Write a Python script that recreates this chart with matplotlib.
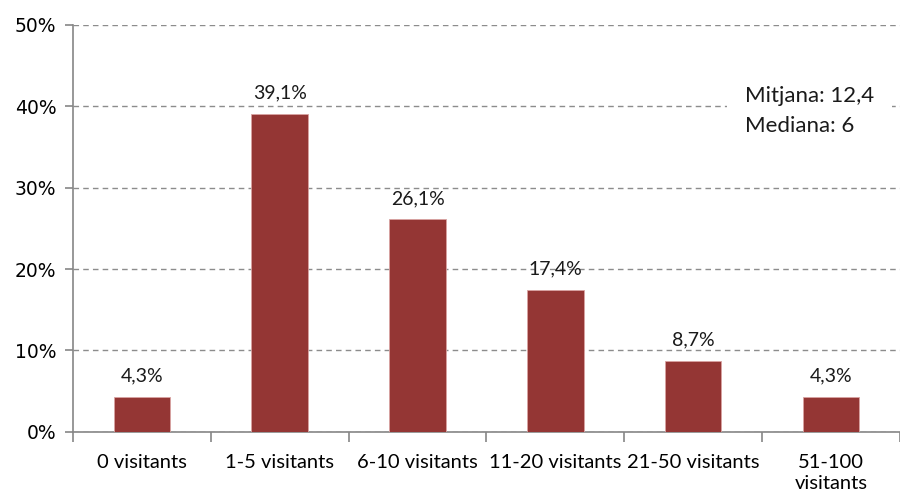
import numpy as np
import matplotlib.pyplot as plt

categories = ['0 visitants', '1-5 visitants', '6-10 visitants', '11-20 visitants',
              '21-50 visitants', '51-100\nvisitants']
values = [4.3, 39.1, 26.1, 17.4, 8.7, 4.3]
yticks = [0, 10, 20, 30, 40, 50]
stats_text = 'Mitjana: 12,4\nMediana: 6'

BAR = '#943634'
AXIS = '#868686'
LABEL_FONT = ['Lato', 'DejaVu Sans']

fig = plt.figure(figsize=(9, 4.97), dpi=100)
ax = fig.add_axes([0.081, 0.131, 0.919, 0.819])

x = np.arange(len(categories))
ax.bar(x, values, width=0.41, color=BAR, edgecolor='#d9a3a2', linewidth=0.6, zorder=3)

for xi, v in zip(x, values):
    ax.annotate(f'{v:.1f}%'.replace('.', ','), (xi, v), xytext=(0, 9),
                textcoords='offset points', ha='center', va='bottom',
                fontsize=14, family=LABEL_FONT, color='#1a1a1a')

ax.set_xlim(-0.5, len(categories) - 0.5)
ax.set_ylim(0, 50)
ax.set_yticks(yticks)
ax.set_yticklabels([f'{t}%' for t in yticks], fontsize=13.5)
ax.yaxis.grid(True, linestyle=(0, (4, 3)), color='#8c8c8c', linewidth=1, zorder=0)

ax.set_xticks(x)
ax.set_xticklabels(categories, fontsize=14.5, family=LABEL_FONT, linespacing=1.3)
ax.set_xticks(np.arange(len(categories) + 1) - 0.5, minor=True)
ax.tick_params(axis='x', which='major', length=0, pad=16)
ax.tick_params(axis='x', which='minor', length=7, color=AXIS, width=1.2)
ax.tick_params(axis='y', length=6, color=AXIS, width=1.2, pad=6)

for s in ['top', 'right']:
    ax.spines[s].set_visible(False)
for s in ['left', 'bottom']:
    ax.spines[s].set_color(AXIS)
    ax.spines[s].set_linewidth(1.2)

ax.text(4.376, 39.4, stats_text, ha='left', va='center', fontsize=16,
        family=LABEL_FONT, linespacing=1.6, color='#1a1a1a', zorder=5,
        bbox=dict(boxstyle='square,pad=0.8', facecolor='white', edgecolor='none'))

fig.savefig('out.png', dpi=100)
